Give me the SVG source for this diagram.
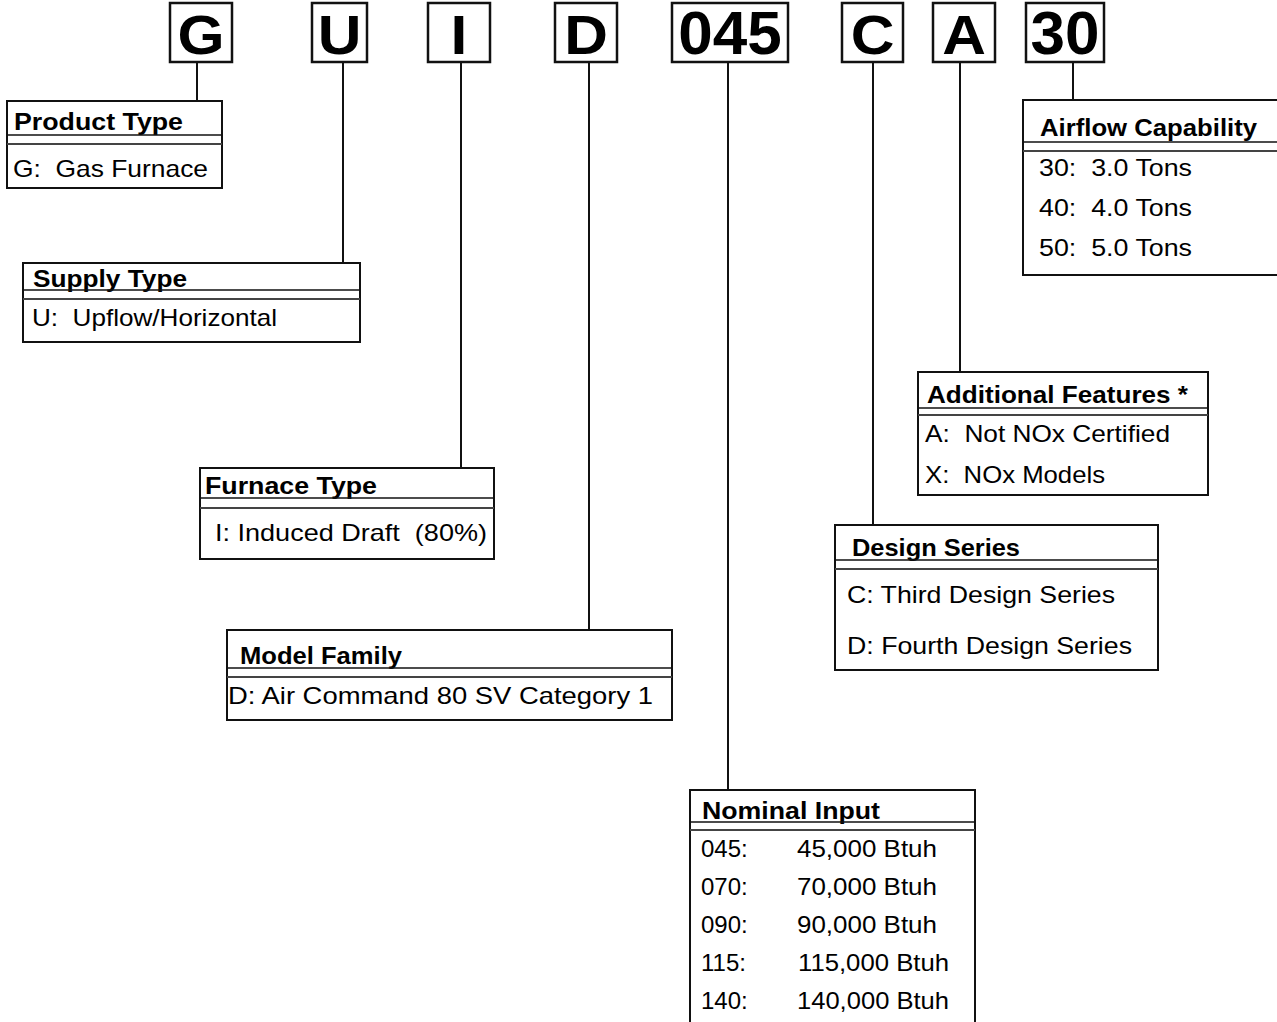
<svg xmlns="http://www.w3.org/2000/svg" width="1277" height="1022" viewBox="0 0 1277 1022">
<style>
.bg{fill:#fff}
.code{fill:#fff;stroke:#111;stroke-width:2.5}
.box{fill:#fff;stroke:#111;stroke-width:2}
.l1{stroke:#111;stroke-width:1.5}
.l2{stroke:#444;stroke-width:2}
.conn{stroke:#111;stroke-width:2;fill:none}
.big{font-family:"Liberation Sans",Arial,sans-serif;font-weight:bold;font-size:56px;text-anchor:middle;fill:#000}
.num{font-size:62px}
.t{font-family:"Liberation Sans",Arial,sans-serif;font-weight:bold;font-size:24px;fill:#000}
.b{font-family:"Liberation Sans",Arial,sans-serif;font-size:24px;fill:#000}
</style>
<rect class="bg" x="0" y="0" width="1277" height="1022"/>
<g id="connectors">
<line class="conn" x1="197" y1="62" x2="197" y2="101"/>
<line class="conn" x1="343" y1="62" x2="343" y2="263"/>
<line class="conn" x1="461" y1="62" x2="461" y2="468"/>
<line class="conn" x1="589" y1="62" x2="589" y2="630"/>
<line class="conn" x1="728" y1="62" x2="728" y2="790"/>
<line class="conn" x1="873" y1="62" x2="873" y2="525"/>
<line class="conn" x1="960" y1="62" x2="960" y2="372"/>
<line class="conn" x1="1073" y1="62" x2="1073" y2="100"/>
</g>
<g id="code-G"><rect class="code" x="170" y="3" width="62" height="59"/><text class="big" transform="translate(201,54) scale(1.08,1)">G</text></g>
<g id="code-U"><rect class="code" x="312" y="3" width="55" height="59"/><text class="big" transform="translate(339.5,54) scale(1.08,1)">U</text></g>
<g id="code-I"><rect class="code" x="428" y="3" width="62" height="59"/><text class="big" transform="translate(459,54) scale(1.08,1)">I</text></g>
<g id="code-D"><rect class="code" x="555" y="3" width="62" height="59"/><text class="big" transform="translate(586,54) scale(1.08,1)">D</text></g>
<g id="code-045"><rect class="code" x="672" y="3" width="116" height="59"/><text class="big num" x="730" y="54">045</text></g>
<g id="code-C"><rect class="code" x="842" y="3" width="61" height="59"/><text class="big" transform="translate(872.5,54) scale(1.08,1)">C</text></g>
<g id="code-A"><rect class="code" x="933" y="3" width="62" height="59"/><text class="big" transform="translate(964,54) scale(1.08,1)">A</text></g>
<g id="code-30"><rect class="code" x="1026" y="3" width="78" height="59"/><text class="big num" x="1065" y="54">30</text></g>

<g id="product-type">
<rect class="box" x="7" y="101" width="215" height="87"/>
<text class="t" x="14" y="130" textLength="169" lengthAdjust="spacingAndGlyphs">Product Type</text>
<line class="l1" x1="7" y1="135" x2="222" y2="135"/><line class="l2" x1="7" y1="144" x2="222" y2="144"/>
<text class="b" x="13" y="177" xml:space="preserve" textLength="195" lengthAdjust="spacingAndGlyphs">G:  Gas Furnace</text>
</g>
<g id="supply-type">
<rect class="box" x="23" y="263" width="337" height="79"/>
<text class="t" x="33" y="287" textLength="154" lengthAdjust="spacingAndGlyphs">Supply Type</text>
<line class="l1" x1="23" y1="290" x2="360" y2="290"/><line class="l2" x1="23" y1="299" x2="360" y2="299"/>
<text class="b" x="32" y="326" xml:space="preserve" textLength="245" lengthAdjust="spacingAndGlyphs">U:  Upflow/Horizontal</text>
</g>
<g id="furnace-type">
<rect class="box" x="200" y="468" width="294" height="91"/>
<text class="t" x="205" y="494" textLength="172" lengthAdjust="spacingAndGlyphs">Furnace Type</text>
<line class="l1" x1="200" y1="498" x2="494" y2="498"/><line class="l2" x1="200" y1="508" x2="494" y2="508"/>
<text class="b" x="215" y="541" xml:space="preserve" textLength="272" lengthAdjust="spacingAndGlyphs">I: Induced Draft  (80%)</text>
</g>
<g id="model-family">
<rect class="box" x="227" y="630" width="445" height="90"/>
<text class="t" x="240" y="664" textLength="162" lengthAdjust="spacingAndGlyphs">Model Family</text>
<line class="l1" x1="227" y1="668" x2="672" y2="668"/><line class="l2" x1="227" y1="677" x2="672" y2="677"/>
<text class="b" x="228" y="704" textLength="425" lengthAdjust="spacingAndGlyphs">D: Air Command 80 SV Category 1</text>
</g>
<g id="nominal-input">
<path class="box" d="M690,1030 V790 H975 V1030"/>
<text class="t" x="702" y="819" xml:space="preserve" textLength="178" lengthAdjust="spacingAndGlyphs">Nominal Input</text>
<line class="l1" x1="690" y1="822" x2="975" y2="822"/><line class="l2" x1="690" y1="830" x2="975" y2="830"/>
<text class="b" x="701" y="857">045:</text><text class="b" x="797" y="857" textLength="140" lengthAdjust="spacingAndGlyphs">45,000 Btuh</text>
<text class="b" x="701" y="895">070:</text><text class="b" x="797" y="895" textLength="140" lengthAdjust="spacingAndGlyphs">70,000 Btuh</text>
<text class="b" x="701" y="933">090:</text><text class="b" x="797" y="933" textLength="140" lengthAdjust="spacingAndGlyphs">90,000 Btuh</text>
<text class="b" x="701" y="971">115:</text><text class="b" x="798" y="971" textLength="151" lengthAdjust="spacingAndGlyphs">115,000 Btuh</text>
<text class="b" x="701" y="1009">140:</text><text class="b" x="797" y="1009" textLength="152" lengthAdjust="spacingAndGlyphs">140,000 Btuh</text>
</g>
<g id="design-series">
<rect class="box" x="835" y="525" width="323" height="145"/>
<text class="t" x="852" y="556" textLength="168" lengthAdjust="spacingAndGlyphs">Design Series</text>
<line class="l1" x1="835" y1="560" x2="1158" y2="560"/><line class="l2" x1="835" y1="569" x2="1158" y2="569"/>
<text class="b" x="847" y="603" textLength="268" lengthAdjust="spacingAndGlyphs">C: Third Design Series</text>
<text class="b" x="847" y="654" textLength="285" lengthAdjust="spacingAndGlyphs">D: Fourth Design Series</text>
</g>
<g id="additional-features">
<rect class="box" x="918" y="372" width="290" height="123"/>
<text class="t" x="927" y="403" textLength="261" lengthAdjust="spacingAndGlyphs">Additional Features *</text>
<line class="l1" x1="918" y1="408" x2="1208" y2="408"/><line class="l2" x1="918" y1="415" x2="1208" y2="415"/>
<text class="b" x="925" y="442" xml:space="preserve" textLength="245" lengthAdjust="spacingAndGlyphs">A:  Not NOx Certified</text>
<text class="b" x="925" y="483" xml:space="preserve" textLength="180" lengthAdjust="spacingAndGlyphs">X:  NOx Models</text>
</g>
<g id="airflow-capability">
<path class="box" d="M1285,100 H1023 V275 H1285"/>
<text class="t" x="1040" y="136" textLength="217" lengthAdjust="spacingAndGlyphs">Airflow Capability</text>
<line class="l1" x1="1023" y1="142" x2="1277" y2="142"/><line class="l2" x1="1023" y1="151" x2="1277" y2="151"/>
<text class="b" x="1039" y="176" xml:space="preserve" textLength="153" lengthAdjust="spacingAndGlyphs">30:  3.0 Tons</text>
<text class="b" x="1039" y="216" xml:space="preserve" textLength="153" lengthAdjust="spacingAndGlyphs">40:  4.0 Tons</text>
<text class="b" x="1039" y="256" xml:space="preserve" textLength="153" lengthAdjust="spacingAndGlyphs">50:  5.0 Tons</text>
</g>
</svg>
